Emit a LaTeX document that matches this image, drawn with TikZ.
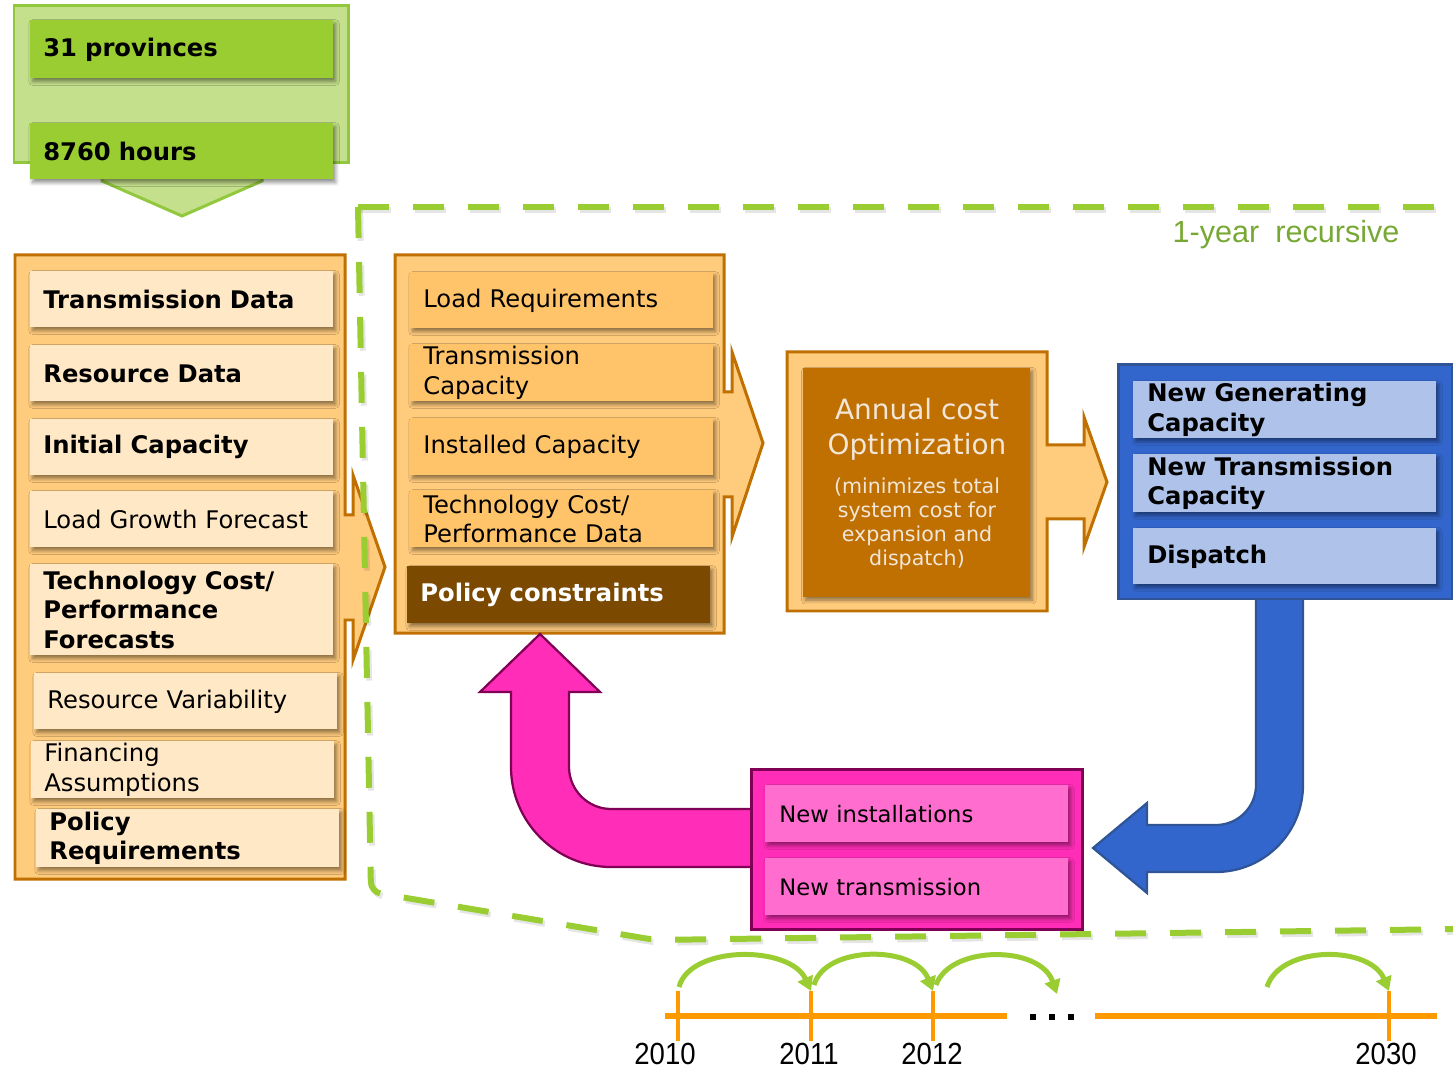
\documentclass[tikz,border=0pt]{standalone}
\usepackage{fontspec}
\setmainfont{DejaVu Sans}
\newfontfamily\arialfont{Liberation Sans}
\usetikzlibrary{shadows.blur,arrows.meta}

\definecolor{lgreen}{HTML}{C4E08C}
\definecolor{mgreen}{HTML}{9ACD32}
\definecolor{gborder}{HTML}{92C83E}
\definecolor{oborder}{HTML}{C07000}
\definecolor{ofill}{HTML}{FFCB7D}
\definecolor{oitem}{HTML}{FFE8C6}
\definecolor{oitemtwo}{HTML}{FFC46A}
\definecolor{dbrown}{HTML}{7B4A00}
\definecolor{dorange}{HTML}{C07000}
\definecolor{bfill}{HTML}{3366CC}
\definecolor{bborder}{HTML}{2F5597}
\definecolor{bitem}{HTML}{AFC3EA}
\definecolor{pfill}{HTML}{FF2DB7}
\definecolor{pborder}{HTML}{7F0055}
\definecolor{pitem}{HTML}{FF6DCE}
\definecolor{tline}{HTML}{FF9900}
\definecolor{gtext}{HTML}{77A834}
\definecolor{otext}{HTML}{F2E6D9}

\newcommand\fsA{\fontsize{13.8pt}{16.7pt}\selectfont}
\newcommand\fsP{\fontsize{12.9pt}{16pt}\selectfont}
\newcommand\fsT{\fontsize{15.9pt}{19.8pt}\selectfont}
\newcommand\fsS{\fontsize{11.7pt}{13.6pt}\selectfont}

\begin{document}
\begin{tikzpicture}[x=0.02cm,y=-0.02cm,
  shd/.style={blur shadow={shadow xshift=1.3pt,shadow yshift=-1.8pt,shadow blur steps=5,shadow opacity=45}},
  itm/.style={anchor=north west,inner xsep=0.26cm,inner ysep=0pt,align=left,font=\fsA,shd,text width=5.54cm},
  lit/.style={itm,fill=oitem},
  litb/.style={lit,font=\fsA\bfseries},
  mit/.style={itm,fill=oitemtwo},
  bit/.style={itm,fill=bitem,inner xsep=0.28cm,text width=5.50cm,font=\fsA\bfseries},
  pit/.style={itm,fill=pitem,inner xsep=0.28cm,text width=5.50cm,font=\fsP},
  git/.style={itm,fill=mgreen,font=\fsA\bfseries},
  container/.style={line width=0.06cm,line join=miter},
  loopline/.style={draw=mgreen,line width=0.12cm,dash pattern=on 0.62cm off 0.48cm},
  loopshadow/.style={draw=black,opacity=0.1,line width=0.12cm,dash pattern=on 0.62cm off 0.48cm},
  tl/.style={draw=tline,line width=0.11cm},
  tick/.style={draw=tline,line width=0.09cm},
  garc/.style={draw=mgreen,line width=0.1cm,-{Triangle[length=0.28cm,width=0.32cm]}},
  year/.style={font=\arialfont\fontsize{17.4pt}{19pt}\selectfont,inner sep=0pt}
]
\useasboundingbox (0,0) rectangle (1453,1070);

% ---------------- green header
\path[container,fill=lgreen,draw=gborder] (102,170) -- (262,170) -- (262,181) -- (182,216) -- (102,181) -- cycle;
\path[container,fill=lgreen,draw=gborder] (14,6) rectangle (348,163);
\node[git,minimum height=1.16cm] (prov) at (30,20) {31 provinces};
\node[git,minimum height=1.12cm] (hours) at (30,123) {8760 hours};

% ---------------- left input box
\path[container,fill=ofill,draw=oborder] (15,255) -- (345,255) -- (345,515) -- (353,515) -- (353,475) -- (385,567) -- (353,660) -- (353,620) -- (345,620) -- (345,879) -- (15,879) -- cycle;
\node[litb,minimum height=1.12cm] (tdata) at (30,271) {Transmission Data};
\node[litb,minimum height=1.12cm] (rdata) at (30,345) {Resource Data};
\node[litb,minimum height=1.12cm] (icap) at (30,419) {Initial Capacity};
\node[lit,minimum height=1.12cm] (lgf) at (30,491) {Load Growth Forecast};
\node[litb,minimum height=1.82cm] (tcf) at (30,564) {Technology Cost/\\Performance\\Forecasts};
\node[lit,minimum height=1.12cm] (rvar) at (34,673) {Resource Variability};
\node[lit,minimum height=1.14cm] (fin) at (31,741) {Financing\\Assumptions};
\node[litb,minimum height=1.16cm] (preq) at (36,809) {Policy\\Requirements};

% ---------------- middle box
\path[container,fill=ofill,draw=oborder] (395,255) -- (724,255) -- (724,392) -- (732,392) -- (732,352) -- (763,443) -- (732,537) -- (732,497) -- (724,497) -- (724,633) -- (395,633) -- cycle;
\node[mit,minimum height=1.12cm] (lreq) at (410,272) {Load Requirements};
\node[mit,minimum height=1.14cm] (tcap) at (410,344) {Transmission\\Capacity};
\node[mit,minimum height=1.14cm] (inst) at (410,418) {Installed Capacity};
\node[mit,minimum height=1.14cm] (tcpd) at (410,490) {Technology Cost/\\Performance Data};
\node[itm,fill=dbrown,text=white,font=\fsA\bfseries,minimum height=1.14cm] (pcon) at (407,566) {Policy constraints};

% ---------------- optimization box
\path[container,fill=ofill,draw=oborder] (787,352) -- (1047,352) -- (1047,445) -- (1084,445) -- (1084,417) -- (1107,482) -- (1084,547) -- (1084,519) -- (1047,519) -- (1047,611) -- (787,611) -- cycle;
\node[fill=dorange,shd,minimum width=4.54cm,minimum height=4.58cm,inner sep=0pt] (opt) at (916.5,482.5) {};
\node[font=\fsT,text=otext,align=center,inner sep=0pt] (optT) at (917,429) {Annual cost\\Optimization};
\node[font=\fsS,text=otext,align=center,inner sep=0pt] (optS) at (917,524) {(minimizes total\\system cost for\\expansion and\\dispatch)};

% ---------------- blue arrow and box
\path[fill=bfill,draw=bborder,line width=0.045cm,line join=miter]
  (1256,595) -- (1256,785) .. controls (1256,807) and (1238,825) .. (1216,825) -- (1147,825) -- (1147,803) -- (1093,848) -- (1147,893) -- (1147,872) -- (1216,872) .. controls (1264,872) and (1303,833) .. (1303,785) -- (1303,595) -- cycle;
\path[container,fill=bfill,draw=bborder] (1118,365) rectangle (1452,599);
\node[bit,minimum height=1.14cm] (ngc) at (1133,381) {New Generating\\Capacity};
\node[bit,minimum height=1.16cm] (ntc) at (1133,454) {New Transmission\\Capacity};
\node[bit,minimum height=1.12cm] (disp) at (1133,528) {Dispatch};

% ---------------- pink arrow and box
\path[fill=pfill,draw=pborder,line width=0.045cm,line join=miter]
  (755,809) -- (611,809) .. controls (588,809) and (569,790) .. (569,767) -- (569,692) -- (600,692) -- (540,634) -- (480,692) -- (511,692) -- (511,767) .. controls (511,822) and (556,867) .. (611,867) -- (755,867) -- cycle;
\path[container,fill=pfill,draw=pborder] (751,769) rectangle (1082,929);
\node[pit,minimum height=1.14cm] (ninst) at (765,785) {New installations};
\node[pit,minimum height=1.14cm] (ntrans) at (765,858) {New transmission};

% ---------------- dashed recursion boundary
\begin{scope}[xshift=1.2pt,yshift=-1.6pt]
\draw[loopshadow] (358,207) -- (1453,207);
\draw[loopshadow,rounded corners=0.2cm] (358,207) -- (371,892) -- (655,940) -- (1460,929);
\end{scope}
\draw[loopline] (358,207) -- (1453,207);
\draw[loopline,rounded corners=0.2cm] (358,207) -- (371,892) -- (655,940) -- (1460,929);
\node[font=\arialfont\fontsize{17.4pt}{20pt}\selectfont,text=gtext,inner sep=0pt] (recur) at (1286,235) {1-year\hspace{0.25em} recursive};

% ---------------- timeline
\coordinate (la) at (665,1016);
\coordinate (lb) at (1007,1016);
\coordinate (lc) at (1095,1016);
\coordinate (ld) at (1437,1016);
\draw[tl] (la) -- (lb);
\draw[tl] (lc) -- (ld);
\foreach \x/\n in {678/a,811/b,933/c,1389/d}{
  \coordinate (tt\n) at (\x,991);
  \coordinate (tb\n) at (\x,1041);
  \draw[tick] (tt\n) -- (tb\n);
}
\foreach \x in {1033,1052,1071}{
  \fill (\x-2.6,1014.4) rectangle (\x+2.6,1019.6);
}
\node[year] (y2010) at (665,1054) {\scalebox{0.9}[1]{2010}};
\node[year] (y2011) at (809,1054) {\scalebox{0.9}[1]{2011}};
\node[year] (y2012) at (932,1054) {\scalebox{0.9}[1]{2012}};
\node[year] (y2030) at (1386,1054) {\scalebox{0.9}[1]{2030}};

\coordinate (s1) at (679,987);
\coordinate (s2) at (814,985);
\coordinate (s3) at (936,985);
\coordinate (e3) at (1057,994);
\coordinate (s4) at (1267,987);
\draw[garc] (s1) .. controls (690,945) and (790,945) .. (ttb);
\draw[garc] (s2) .. controls (825,945) and (915,945) .. (ttc);
\draw[garc] (s3) .. controls (950,945) and (1040,945) .. (e3);
\draw[garc] (s4) .. controls (1280,945) and (1370,945) .. (ttd);
\end{tikzpicture}
\end{document}
